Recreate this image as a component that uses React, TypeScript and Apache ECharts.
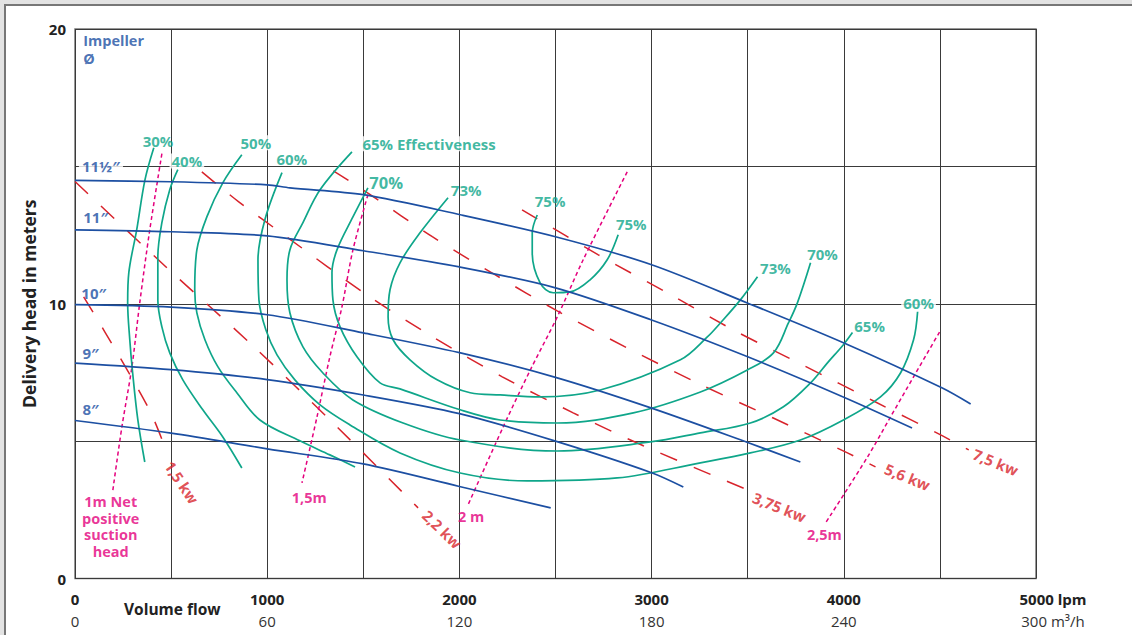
import React, { useEffect, useRef } from 'react';
import * as echarts from 'echarts';

// ---- axis tick labels ----
const FLOW_LPM_LABELS = ['0', '1000', '2000', '3000', '4000', '5000 lpm'];
const FLOW_M3H_LABELS = ['0', '60', '120', '180', '240', '300 m³/h'];
const HEAD_LABELS = [0, 10, 20];

// ---- impeller diameter curves [lpm, m] ----
const imp11half = [[0, 14.49], [500, 14.44], [1000, 14.33], [1118, 14.22], [1500, 13.97], [2005, 13.24], [2500, 12.44], [3000, 11.42], [3498, 10.03], [3998, 8.58], [4510, 6.94], [4660, 6.35]];
const imp11 = [[0, 12.69], [500, 12.62], [1000, 12.47], [1500, 11.93], [2000, 11.34], [2500, 10.58], [3000, 9.41], [3500, 8.07], [4000, 6.6], [4355, 5.48]];
const imp10 = [[0, 9.97], [500, 9.88], [1000, 9.6], [1500, 8.94], [2000, 8.22], [2500, 7.32], [3000, 6.2], [3500, 4.95], [3774, 4.24]];
const imp9 = [[0, 7.84], [500, 7.6], [1000, 7.24], [1500, 6.68], [2000, 6.0], [2500, 5.0], [3000, 3.85], [3165, 3.33]];
const imp8 = [[0, 5.75], [500, 5.29], [1000, 4.72], [1500, 4.17], [2000, 3.35], [2475, 2.57]];

// ---- efficiency curves ----
const eff30 = [[410, 15.68], [364, 14.51], [321, 12.69], [280, 11.13], [274, 10.04], [285, 8.69], [300, 7.48], [327, 5.77], [363, 4.24]];
const eff40 = [[535, 14.88], [493, 14.15], [452, 12.95], [431, 11.71], [431, 10.14], [452, 9.16], [493, 8.21], [561, 7.23], [665, 6.14], [769, 5.15], [868, 4.02]];
const eff50 = [[868, 15.42], [769, 14.4], [686, 13.16], [634, 11.96], [623, 10.51], [634, 9.67], [676, 8.69], [743, 7.71], [842, 6.76], [962, 5.77], [1170, 5.01], [1326, 4.5], [1457, 4.06]];
const eff60 = [[1077, 14.77], [988, 13.06], [952, 11.6], [957, 10.14], [993, 9.05], [1051, 8.14], [1144, 7.23], [1275, 6.32], [1431, 5.59], [1691, 4.57], [2004, 3.84], [2353, 3.55], [2821, 3.66], [3254, 4.21], [3514, 4.57], [3774, 5.04], [3998, 5.77], [4191, 6.61], [4295, 7.48], [4363, 8.69], [4384, 9.71]];
const eff65 = [[1441, 15.53], [1275, 14.15], [1186, 12.95], [1118, 11.96], [1103, 10.87], [1118, 9.67], [1186, 8.43], [1290, 7.48], [1446, 6.5], [1707, 5.66], [2004, 5.04], [2509, 4.64], [2993, 4.97], [3254, 5.3], [3514, 5.66], [3686, 6.25], [3827, 7.12], [3915, 7.85], [3998, 8.51], [4045, 8.95]];
const eff70 = [[1524, 14.22], [1446, 13.16], [1363, 11.96], [1337, 11.13], [1342, 10.14], [1379, 9.16], [1467, 8.07], [1587, 7.12], [1691, 6.9], [2004, 6.14], [2212, 5.77], [2509, 5.66], [2905, 6.03], [3254, 6.79], [3498, 7.59], [3634, 8.21], [3712, 9.3], [3759, 10.04], [3827, 11.49]];
const eff73 = [[1941, 13.86], [1795, 12.58], [1691, 11.49], [1639, 10.51], [1629, 9.52], [1655, 8.69], [1743, 7.96], [1884, 7.23], [2056, 6.76], [2212, 6.68], [2420, 6.61], [2733, 6.86], [3150, 7.96], [3290, 8.79], [3358, 9.3], [3462, 10.14], [3551, 10.98]];
const eff75 = [[2405, 13.23], [2379, 12.58], [2379, 11.85], [2420, 10.76], [2488, 10.4], [2576, 10.43], [2680, 10.87], [2769, 11.6], [2826, 12.51]];

// ---- motor power lines ----
const kw1_5 = [[45, 10.25], [155, 8.98], [301, 7.23], [400, 5.95], [478, 4.6]];
const kw2_2 = [[0, 14.45], [478, 11.31], [921, 8.5], [1369, 5.48], [1785, 2.57]];
const kw3_75 = [[660, 14.8], [852, 13.71], [1108, 12.4], [1519, 10.32], [1863, 8.79], [2223, 7.34], [2592, 6.03], [2957, 4.83], [3488, 3.26]];
const kw5_6 = [[1344, 14.84], [1536, 13.97], [1859, 12.44], [2187, 11.05], [2509, 9.74], [2874, 8.39], [3249, 7.08], [3633, 5.84], [4019, 4.57], [4165, 4.06]];
const kw7_5 = [[2326, 13.42], [2723, 11.78], [3081, 10.4], [3435, 9.01], [3795, 7.74], [4155, 6.46], [4514, 5.19], [4650, 4.68]];

// ---- NPSH lines ----
const npsh1 = [[452, 15.46], [389, 12.69], [337, 10.04], [296, 7.7], [244, 5.52], [197, 3.22]];
const npsh1_5 = [[1524, 13.97], [1446, 11.96], [1389, 9.89], [1326, 8.07], [1259, 5.88], [1181, 3.48]];
const npsh2 = [[2873, 14.8], [2644, 11.6], [2509, 9.52], [2369, 7.59], [2228, 5.52], [2045, 2.68]];
const npsh2_5 = [[4498, 8.97], [4363, 7.34], [4243, 5.88], [4123, 4.42], [3905, 2.02]];

// ---- labels [text, lpm, m, extra] ----
const EFF_LABELS: [string, number, number, boolean][] = [
  ['30%', 432, 15.93, false],
  ['40%', 582, 15.2, true],
  ['50%', 941, 15.86, true],
  ['60%', 1128, 15.28, false],
  ['65% Effectiveness', 1842, 15.82, true],
  ['73%', 2035, 14.14, false],
  ['75%', 2472, 13.75, false],
  ['75%', 2894, 12.91, false],
  ['73%', 3644, 11.31, false],
  ['70%', 3889, 11.82, false],
  ['65%', 4134, 9.2, false],
  ['60%', 4389, 10.03, true],
];
const EFF70_LABEL: [string, number, number] = ['70%', 1619, 14.4];
const IMP_LABELS: [string, number, number, boolean][] = [
  ['11½″', 135, 15.02, true],
  ['11″', 108, 13.16, false],
  ['10″', 98, 10.4, false],
  ['9″', 82, 8.21, false],
  ['8″', 82, 6.17, false],
];
const IMPELLER_TITLE: [string, number, number] = ['Impeller\nØ', 40, 19.25];
const KW_LABELS: [string, number, number, number][] = [
  ['1,5 kw', 556, 3.5, -56],
  ['2,2 kw', 1910, 1.8, -44],
  ['3,75 kw', 3665, 2.6, -22],
  ['5,6 kw', 4331, 3.7, -22],
  ['7,5 kw', 4790, 4.24, -22],
];
const NPSH_LABELS: [string, number, number][] = [
  ['1m Net\npositive\nsuction\nhead', 186, 1.89],
  ['1,5m', 1219, 2.93],
  ['2 m', 2061, 2.24],
  ['2,5m', 3899, 1.59],
];

const FONT = "'Open Sans', 'Noto Sans', 'DejaVu Sans', sans-serif";
const BLUE = '#1c4fa2';
const TEAL = '#0fa68a';
const RED = '#d8232b';
const MAGENTA = '#e4007d';

export default function App() {
  const ref = useRef<HTMLDivElement>(null);
  useEffect(() => {
    if (!ref.current) return;
    const chart = echarts.init(ref.current, undefined, { renderer: 'svg' });

    const lineS = (data: number[][], color: string, width: number, type: any, smooth: number, z: number) => ({
      type: 'line', data, smooth, symbol: 'none', silent: true, z,
      lineStyle: { color, width, type },
    });

    const series: any[] = [];
    [eff30, eff40, eff50, eff60, eff65, eff70, eff73, eff75].forEach(d => series.push(lineS(d, TEAL, 1.7, 'solid', 0.35, 3)));
    [imp11half, imp11, imp10, imp9, imp8].forEach(d => series.push(lineS(d, BLUE, 1.7, 'solid', 0.3, 4)));
    [kw1_5, kw2_2, kw3_75, kw5_6, kw7_5].forEach(d => series.push(lineS(d, RED, 1.5, [18, 18], 0.3, 2)));
    [npsh1, npsh1_5, npsh2, npsh2_5].forEach(d => series.push(lineS(d, MAGENTA, 1.5, [4, 3], 0.3, 2)));

    const labelSeries = (items: any[]) => ({
      type: 'scatter', symbolSize: 1, itemStyle: { color: 'rgba(0,0,0,0)' }, silent: true, z: 10,
      data: items,
    });
    const base = { show: true, position: 'inside', formatter: '{b}', fontFamily: FONT, fontWeight: 'bold', fontSize: 15, textBorderWidth: 0 };

    const effItems: any[] = EFF_LABELS.map(([t, x, y, bg]) => ({
      value: [x, y], name: t,
      label: { ...base, color: TEAL, backgroundColor: bg ? '#fff' : 'transparent', padding: [0, 2] },
    }));
    effItems.push({
      value: [EFF70_LABEL[1], EFF70_LABEL[2]], name: EFF70_LABEL[0],
      label: { ...base, color: TEAL, fontSize: 16.5 },
    });
    const impItems: any[] = IMP_LABELS.map(([t, x, y, bg]) => ({
      value: [x, y], name: t,
      label: { ...base, color: BLUE, backgroundColor: bg ? '#fff' : 'transparent', padding: [0, 3] },
    }));
    impItems.push({
      value: [IMPELLER_TITLE[1], IMPELLER_TITLE[2]], name: IMPELLER_TITLE[0],
      label: { ...base, position: 'right', distance: 0, color: BLUE, fontSize: 14.5, lineHeight: 17.5 },
    });
    const kwItems = KW_LABELS.map(([t, x, y, r]) => ({
      value: [x, y], name: t,
      label: { ...base, color: RED, rotate: r },
    }));
    const npshItems = NPSH_LABELS.map(([t, x, y]) => ({
      value: [x, y], name: t,
      label: { ...base, color: MAGENTA, align: 'center', fontSize: 14.5, lineHeight: 16.8 },
    }));
    series.push(labelSeries(effItems), labelSeries(impItems), labelSeries(kwItems), labelSeries(npshItems));

    chart.setOption({
      animation: false,
      backgroundColor: 'transparent',
      grid: { left: 75, top: 29, right: 96, bottom: 56.5, show: true, borderColor: '#777', borderWidth: 1.5, containLabel: false },
      xAxis: {
        type: 'value', min: 0, max: 5000, interval: 500,
        axisLine: { show: false }, axisTick: { show: false },
        splitLine: { show: true, lineStyle: { color: '#3a3a3a', width: 1 } },
        axisLabel: {
          margin: 9,
          showMinLabel: true, showMaxLabel: true,
          formatter: (v: number) => {
            if (v % 1000 !== 0) return '';
            const i = v / 1000;
            if (i === 5) return `{c|${FLOW_LPM_LABELS[i]}}\n{d|${FLOW_M3H_LABELS[i]}}`;
            return `{a|${FLOW_LPM_LABELS[i]}}\n{b|${FLOW_M3H_LABELS[i]}}`;
          },
          rich: {
            a: { fontFamily: FONT, fontWeight: 'bold', fontSize: 15, color: '#222', lineHeight: 22 },
            b: { fontFamily: FONT, fontWeight: 'normal', fontSize: 15, color: '#333', lineHeight: 22 },
            c: { fontFamily: FONT, fontWeight: 'bold', fontSize: 15, color: '#222', lineHeight: 22, padding: [0, 0, 0, 34] },
            d: { fontFamily: FONT, fontWeight: 'normal', fontSize: 15, color: '#333', lineHeight: 22, padding: [0, 0, 0, 34] },
          },
        },
      },
      yAxis: {
        type: 'value', min: 0, max: 20, interval: 5,
        name: 'Delivery head in meters', nameLocation: 'middle', nameRotate: 90, nameGap: 33,
        nameTextStyle: { fontFamily: FONT, fontWeight: 'bold', fontSize: 17.5, color: '#222' },
        axisLine: { show: false }, axisTick: { show: false },
        splitLine: { show: true, lineStyle: { color: '#3a3a3a', width: 1 } },
        axisLabel: {
          margin: 9, fontFamily: FONT, fontWeight: 'bold', fontSize: 15, color: '#222',
          formatter: (v: number) => (HEAD_LABELS.includes(v) ? String(v) : ''),
        },
      },
      graphic: [
        { type: 'text', left: 124, top: 601, style: { text: 'Volume flow', font: `bold 15.5px ${FONT}`, fill: '#222' } },
      ],
      series,
    });
    return () => chart.dispose();
  }, []);

  return (
    <div style={{ position: 'fixed', left: 0, top: 0, width: 1132, height: 635, background: '#e3e3e3', overflow: 'hidden' }}>
      <div style={{ position: 'absolute', left: 4, top: 4, width: 1400, height: 900, borderTop: '2px solid #777', borderLeft: '2px solid #777', background: '#fff' }} />
      <div ref={ref} style={{ position: 'absolute', left: 0, top: 0, width: 1132, height: 635 }} />
    </div>
  );
}
